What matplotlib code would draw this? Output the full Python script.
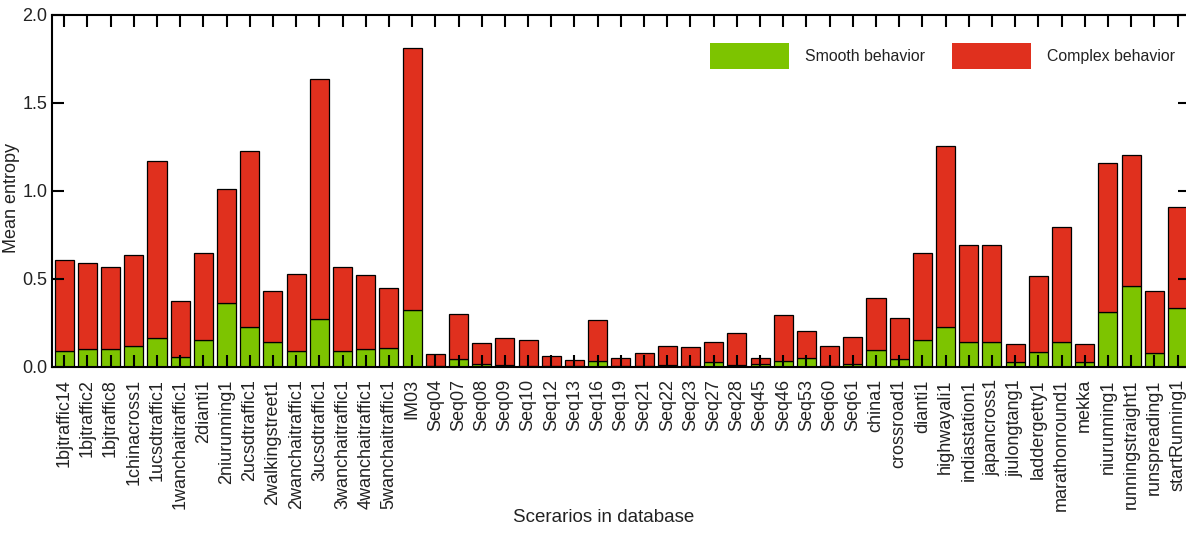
import numpy as np
import matplotlib
matplotlib.use("Agg")
import matplotlib.pyplot as plt
from matplotlib.patches import Patch

# ---- data ----
scenarios = ["1bjtraffic14", "1bjtraffic2", "1bjtraffic8", "1chinacross1", "1ucsdtraffic1",
             "1wanchaitraffic1", "2dianti1", "2niurunning1", "2ucsdtraffic1", "2walkingstreet1",
             "2wanchaitraffic1", "3ucsdtraffic1", "3wanchaitraffic1", "4wanchaitraffic1",
             "5wanchaitraffic1", "IM03", "Seq04", "Seq07", "Seq08", "Seq09", "Seq10", "Seq12",
             "Seq13", "Seq16", "Seq19", "Seq21", "Seq22", "Seq23", "Seq27", "Seq28", "Seq45",
             "Seq46", "Seq53", "Seq60", "Seq61", "china1", "crossroad1", "dianti1",
             "highwayali1", "indiastation1", "japancross1", "jiulongtang1", "laddergetty1",
             "marathonround1", "mekka", "niurunning1", "runningstraight1", "runspreading1",
             "startRunning1"]

# smooth part (green, bottom)
smooth = [0.091, 0.102, 0.100, 0.119, 0.165, 0.057, 0.154, 0.364, 0.224, 0.142,
          0.091, 0.273, 0.087, 0.102, 0.108, 0.322, 0.004, 0.044, 0.013, 0.010,
          0.006, 0.002, 0.002, 0.032, 0.004, 0.002, 0.011, 0.006, 0.028, 0.011,
          0.015, 0.032, 0.051, 0.006, 0.013, 0.095, 0.046, 0.152, 0.227, 0.140,
          0.140, 0.027, 0.082, 0.140, 0.025, 0.313, 0.459, 0.076, 0.334]

# total height of each bar
total = [0.607, 0.588, 0.565, 0.637, 1.170, 0.373, 0.645, 1.009, 1.227, 0.428,
         0.529, 1.636, 0.569, 0.521, 0.447, 1.810, 0.070, 0.301, 0.135, 0.163,
         0.152, 0.063, 0.036, 0.267, 0.047, 0.080, 0.116, 0.114, 0.142, 0.191,
         0.051, 0.296, 0.203, 0.118, 0.167, 0.392, 0.279, 0.645, 1.255, 0.690,
         0.690, 0.129, 0.518, 0.794, 0.129, 1.160, 1.206, 0.432, 0.908]

complex_part = np.array(total) - np.array(smooth)

green = "#7dc400"
red = "#e0301e"
txt = "#222222"

plt.rcParams["font.family"] = ["Liberation Sans", "DejaVu Sans"]

fig = plt.figure(figsize=(11.86, 5.35), dpi=100)
ax = fig.add_axes([0.0436, 0.3146, 0.9598, 0.6574])

x = np.arange(len(scenarios))
ax.bar(x, smooth, width=0.82, color=green, edgecolor="black", linewidth=0.9)
ax.bar(x, complex_part, width=0.82, bottom=smooth, color=red, edgecolor="black", linewidth=0.9)

ax.set_xlim(-0.54, len(scenarios) - 1 + 0.54)
ax.set_ylim(0, 2.0)
ax.set_yticks([0, 0.5, 1.0, 1.5, 2.0])
ax.set_yticklabels(["0.0", "0.5", "1.0", "1.5", "2.0"])
ax.set_xticks(x)
ax.set_xticklabels(scenarios, rotation=90, fontsize=13, color=txt)

ax.tick_params(axis="x", direction="in", length=8.4, width=1.5, top=True, pad=9)
ax.tick_params(axis="y", direction="in", length=8.4, width=1.5, right=True, pad=3,
               labelsize=13, labelcolor=txt)
for s in ax.spines.values():
    s.set_linewidth(1.5)

ax.set_ylabel("Mean entropy", fontsize=13, color=txt)
ax.yaxis.set_label_coords(-0.0275, 0.48)
ax.set_xlabel("Scerarios in database", fontsize=13.5, color=txt, va="top")
ax.xaxis.set_label_coords(0.485, -0.405)

handles = [Patch(facecolor=green, edgecolor="none", label="Smooth behavior"),
           Patch(facecolor=red, edgecolor="none", label="Complex behavior")]
ax.legend(handles=handles, ncol=2, frameon=False, fontsize=11.4,
          handlelength=5.0, handleheight=2.15, handletextpad=1.0, columnspacing=1.7,
          loc="upper left", bbox_to_anchor=(710 / 1186, 1 - 43 / 535),
          bbox_transform=fig.transFigure, borderpad=0, borderaxespad=0,
          labelcolor=txt)

fig.savefig("out.png", dpi=100)
